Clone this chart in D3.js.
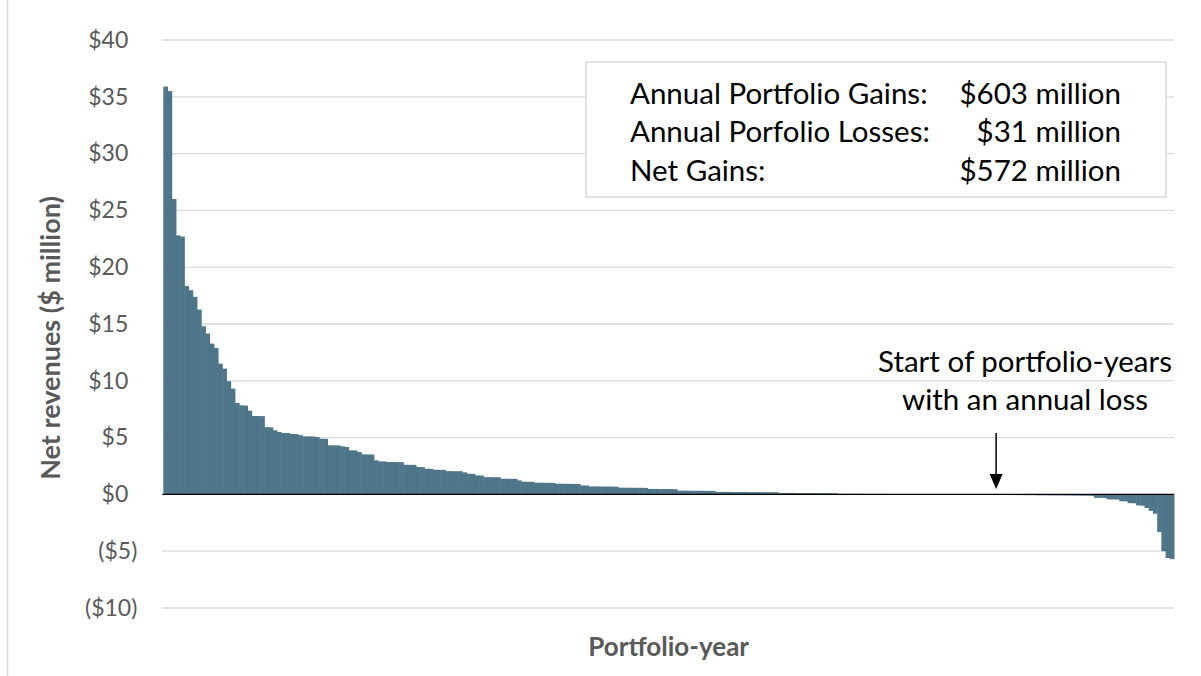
<!DOCTYPE html>
<html>
<head>
<meta charset="utf-8">
<script src="https://cdn.jsdelivr.net/npm/d3@7/dist/d3.min.js"></script>
<style>
  html, body { margin: 0; padding: 0; background: #ffffff; }
  svg { display: block; }
</style>
</head>
<body>
<svg id="chart" width="1201" height="676"></svg>
<script>
// ---- Data ----
const netRevenues = [
  35.9, 35.5, 26.0, 22.8, 22.7,
  18.35, 17.97, 17.39, 16.27, 14.8, 14.16, 13.27, 12.89, 11.51, 11.07, 9.96, 9.31, 8.05,
  7.84, 7.82, 7.37, 6.9, 6.9, 6.89, 5.92, 5.9, 5.64, 5.49, 5.41, 5.4,
  5.32, 5.31, 5.22, 5.11, 5.11, 5.1, 5.05, 4.9, 4.89,
  4.32, 4.32, 4.31, 4.23, 4.17, 3.88, 3.87, 3.73, 3.52, 3.52, 3.51,
  3.0, 2.91, 2.9, 2.85, 2.85, 2.84, 2.84, 2.61, 2.6, 2.6,
  2.41, 2.4, 2.26, 2.25, 2.17, 2.16, 2.16, 2.05, 2.05, 2.04, 2.04,
  1.94, 1.82, 1.81, 1.67, 1.66, 1.52, 1.52, 1.51, 1.51,
  1.38, 1.38, 1.37, 1.37, 1.23, 1.12, 1.11, 1.11,
  1.03, 1.03, 1.02, 1.02, 1.01, 0.94, 0.94, 0.93, 0.93, 0.92, 0.92,
  0.79, 0.78, 0.70, 0.70, 0.70, 0.69, 0.69, 0.69, 0.68,
  0.59, 0.59, 0.59, 0.58, 0.58, 0.58, 0.57,
  0.48, 0.48, 0.48, 0.47, 0.47, 0.47, 0.46,
  0.33, 0.33, 0.33, 0.32, 0.32, 0.32, 0.31, 0.31, 0.31,
  0.22, 0.22, 0.22, 0.22, 0.21, 0.21, 0.21, 0.21, 0.2, 0.2, 0.2, 0.2, 0.19, 0.19, 0.19,
  0.13, 0.13, 0.13, 0.13, 0.12, 0.12, 0.12, 0.12, 0.11, 0.11, 0.11, 0.11, 0.1, 0.1,
  0.05, 0.05, 0.05, 0.05, 0.05, 0.04, 0.04, 0.04, 0.04, 0.04, 0.04, 0.04, 0.04,
  0.03, 0.03, 0.03, 0.03, 0.03, 0.03, 0.03, 0.03, 0.03, 0.03, 0.03, 0.03, 0.03,
  0.02, 0.02, 0.02, 0.02, 0.02, 0.02, 0.01, 0.01, 0.01, 0.01, 0.01, 0.01,
  -0.05, -0.05, -0.05, -0.06, -0.06, -0.06, -0.07, -0.07, -0.07, -0.08, -0.08, -0.08,
  -0.09, -0.09, -0.09, -0.1, -0.1, -0.1, -0.11, -0.11, -0.12, -0.12, -0.13,
  -0.3, -0.3, -0.31, -0.44, -0.44, -0.45, -0.6, -0.61, -0.77, -0.78, -0.97, -0.99,
  -1.2, -1.45, -1.7, -3.3, -5.0, -5.6, -5.7
];
const yTicks = [-10, -5, 0, 5, 10, 15, 20, 25, 30, 35, 40];
const yTitle = "Net revenues ($ million)";
const xTitle = "Portfolio-year";
const summaryLabels = ["Annual Portfolio Gains:", "Annual Porfolio Losses:", "Net Gains:"];
const summaryValues = ["$603 million", "$31 million", "$572 million"];
const annotationLines = ["Start of portfolio-years", "with an annual loss"];
const firstLossIndex = netRevenues.findIndex(v => v < 0);

// ---- Layout ----
const svg = d3.select("#chart");
const plotLeft = 163.3, plotRight = 1174, plotTop = 40, plotBottom = 608;
const barColor = "#4f7589";
const gridColor = "#d9d9d9";
const textGray = "#595959";
const font = "Lato, 'Open Sans', sans-serif";

// outer frame (left edge visible)
svg.append("line")
  .attr("x1", 7.5).attr("x2", 7.5).attr("y1", 0).attr("y2", 676)
  .attr("stroke", "#d9d9d9").attr("stroke-width", 1.5);

const x = d3.scaleBand()
  .domain(d3.range(netRevenues.length))
  .range([plotLeft, plotRight])
  .padding(0);

const y = d3.scaleLinear().domain([-10, 40]).range([plotBottom, plotTop]);

// gridlines
svg.append("g").selectAll("line")
  .data(yTicks.filter(t => t !== 0))
  .join("line")
  .attr("x1", plotLeft - 1).attr("x2", plotRight)
  .attr("y1", d => y(d)).attr("y2", d => y(d))
  .attr("stroke", gridColor).attr("stroke-width", 1.3);

// y axis labels
const fmt = d => d < 0 ? `($${Math.abs(d)})` : `$${d}`;
const yAxis = d3.axisLeft(y).tickValues(yTicks).tickSize(0).tickPadding(26).tickFormat(fmt);
const yg = svg.append("g").attr("transform", `translate(${plotLeft},0)`).call(yAxis);
yg.select(".domain").remove();
yg.selectAll("text")
  .attr("x", d => d >= 0 ? -35 : -26)
  .attr("fill", textGray)
  .style("font-family", font)
  .style("font-size", "23px");

// bars
svg.append("g").selectAll("rect")
  .data(netRevenues)
  .join("rect")
  .attr("x", (d, i) => x(i))
  .attr("width", x.bandwidth() + 0.5)
  .attr("y", d => y(Math.max(0, d)))
  .attr("height", d => Math.abs(y(d) - y(0)))
  .attr("fill", barColor);

// zero line
svg.append("line")
  .attr("x1", plotLeft - 1).attr("x2", plotRight)
  .attr("y1", y(0)).attr("y2", y(0))
  .attr("stroke", "#000").attr("stroke-width", 1.4);

// axis titles
svg.append("text")
  .attr("transform", `translate(60,338) rotate(-90)`)
  .attr("text-anchor", "middle")
  .attr("fill", textGray)
  .style("font-family", font).style("font-weight", "bold").style("font-size", "27px")
  .text(yTitle);

svg.append("text")
  .attr("x", (plotLeft + plotRight) / 2).attr("y", 656)
  .attr("text-anchor", "middle")
  .attr("fill", textGray)
  .style("font-family", font).style("font-weight", "bold").style("font-size", "26px")
  .text(xTitle);

// summary box
svg.append("rect")
  .attr("x", 586).attr("y", 62).attr("width", 580).attr("height", 135)
  .attr("fill", "#fff").attr("stroke", gridColor).attr("stroke-width", 1.5);

const rows = svg.append("g");
summaryLabels.forEach((lab, i) => {
  rows.append("text")
    .attr("x", 630).attr("y", 103.5 + i * 38.5)
    .attr("fill", "#000")
    .style("font-family", font).style("font-size", "29.5px")
    .text(lab);
  rows.append("text")
    .attr("x", 1121).attr("y", 103.5 + i * 38.5)
    .attr("text-anchor", "end")
    .attr("fill", "#000")
    .style("font-family", font).style("font-size", "29.5px")
    .text(summaryValues[i]);
});

// annotation
const ax = x(firstLossIndex) - 1;
annotationLines.forEach((t, i) => {
  svg.append("text")
    .attr("x", 1025).attr("y", 372 + i * 38)
    .attr("text-anchor", "middle")
    .attr("fill", "#000")
    .style("font-family", font).style("font-size", "29.5px")
    .text(t);
});
svg.append("line")
  .attr("x1", ax).attr("x2", ax)
  .attr("y1", 433).attr("y2", 476)
  .attr("stroke", "#000").attr("stroke-width", 1.5);
svg.append("path")
  .attr("d", `M${ax - 6.5},474 L${ax + 6.5},474 L${ax},489 Z`)
  .attr("fill", "#000");
</script>
</body>
</html>
